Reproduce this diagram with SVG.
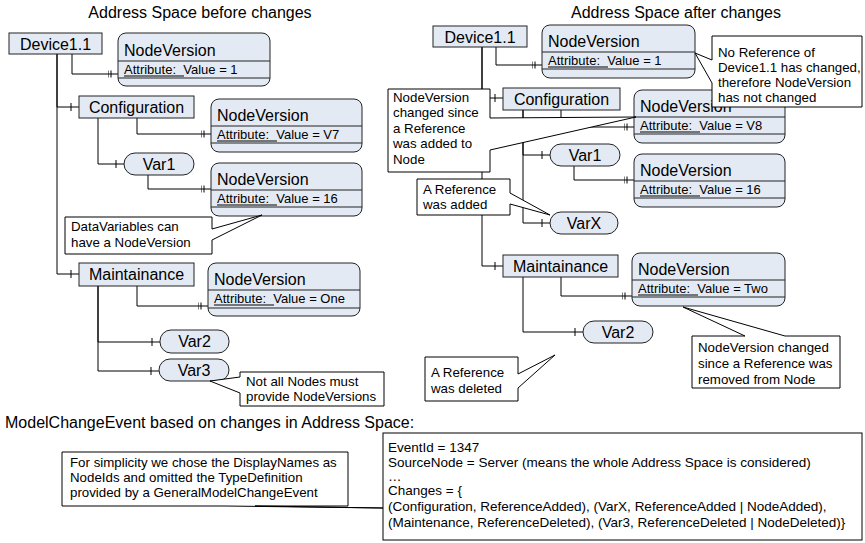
<svg xmlns="http://www.w3.org/2000/svg" width="865" height="543" viewBox="0 0 865 543">
<defs>
<marker id="one" markerWidth="20" markerHeight="20" refX="10" refY="5" orient="auto" markerUnits="userSpaceOnUse"><path d="M2 1V9" stroke="#000" stroke-width="1"/></marker>
<marker id="two" markerWidth="20" markerHeight="20" refX="10" refY="5" orient="auto" markerUnits="userSpaceOnUse"><path d="M0 1.5V8.5M3 1.5V8.5" stroke="#000" stroke-width="1"/></marker>
</defs>
<style>
text{font-family:"Liberation Sans",Arial,sans-serif;fill:#000}
.title{font-size:16px}
.nl{font-size:16px;text-anchor:middle}
.nv{font-size:16px}
.at{font-size:13px}
.co{font-size:13.3px}
.ev{font-size:13.5px}
.box{fill:#e4eaf4;stroke:#222;stroke-width:1}
.div{stroke:#222;stroke-width:1}
.ul{stroke:#000;stroke-width:1}
.call{fill:#fff;stroke:#000;stroke-width:1}
#connectors path{fill:none;stroke:#000;stroke-width:1}
.m1{marker-end:url(#one)}
.m2{marker-end:url(#two)}
</style>
<rect width="865" height="543" fill="#fff"/>
<text class="title" x="200" y="18" text-anchor="middle">Address Space before changes</text>
<text class="title" x="676" y="18" text-anchor="middle">Address Space after changes</text>
<text class="title" x="5" y="428">ModelChangeEvent based on changes in Address Space:</text>

<g id="connectors">
<path class="m1" d="M57 54V107H79"/>
<path class="m1" d="M57 54V274H79"/>
<path class="m2" d="M72 54V74H118"/>
<path class="m2" d="M137 118V134H211"/>
<path class="m1" d="M98 118V164H124"/>
<path class="m2" d="M148 175V189H211"/>
<path class="m2" d="M137 286V306H208"/>
<path class="m1" d="M98 286V342H160"/>
<path class="m1" d="M98 286V371H159"/>
<path class="m1" d="M482 47V98H503"/>
<path class="m1" d="M482 47V266H503"/>
<path class="m2" d="M496 47V65H542"/>
<path class="m2" d="M561 110V127H634"/>
<path class="m1" d="M523 110V155H550"/>
<path class="m1" d="M523 110V223H550"/>
<path class="m2" d="M574 166V180H634"/>
<path class="m2" d="M561 277V296H632"/>
<path class="m1" d="M523 277V332H583"/>
</g>

<g id="L-Device">
<rect class="box" x="9" y="33" width="93" height="21"/>
<text class="nl" x="55.5" y="49.5">Device1.1</text>
</g>
<g id="L-NV1">
<rect class="box" x="118" y="33" width="152" height="53" rx="8"/>
<line class="div" x1="118" y1="61" x2="270" y2="61"/><line class="div" x1="118" y1="78" x2="270" y2="78"/>
<text class="nv" x="124" y="56">NodeVersion</text>
<text class="at" x="124" y="74" xml:space="preserve">Attribute:  Value = 1</text>
<line class="ul" x1="124" y1="76" x2="184" y2="76"/>
</g>
<g id="L-Configuration">
<rect class="box" x="79" y="96" width="115" height="22"/>
<text class="nl" x="136.5" y="113">Configuration</text>
</g>
<g id="L-NV2">
<rect class="box" x="211" y="99" width="151" height="53" rx="8"/>
<line class="div" x1="211" y1="126" x2="362" y2="126"/><line class="div" x1="211" y1="143" x2="362" y2="143"/>
<text class="nv" x="217" y="121">NodeVersion</text>
<text class="at" x="217" y="139" xml:space="preserve">Attribute:  Value = V7</text>
<line class="ul" x1="217" y1="141" x2="277" y2="141"/>
</g>
<g id="L-Var1">
<rect class="box" x="124" y="153" width="70" height="22" rx="11"/>
<text class="nl" x="159" y="169.5">Var1</text>
</g>
<g id="L-NV3">
<rect class="box" x="211" y="163" width="151" height="53" rx="8"/>
<line class="div" x1="211" y1="190" x2="362" y2="190"/><line class="div" x1="211" y1="207" x2="362" y2="207"/>
<text class="nv" x="217" y="185">NodeVersion</text>
<text class="at" x="217" y="203" xml:space="preserve">Attribute:  Value = 16</text>
<line class="ul" x1="217" y1="205" x2="277" y2="205"/>
</g>
<g id="L-Maintainance">
<rect class="box" x="79" y="263" width="115" height="23"/>
<text class="nl" x="136.5" y="280">Maintainance</text>
</g>
<g id="L-NV4">
<rect class="box" x="208" y="263" width="152" height="53" rx="8"/>
<line class="div" x1="208" y1="290" x2="360" y2="290"/><line class="div" x1="208" y1="308" x2="360" y2="308"/>
<text class="nv" x="214" y="285">NodeVersion</text>
<text class="at" x="214" y="303" xml:space="preserve">Attribute:  Value = One</text>
<line class="ul" x1="214" y1="305" x2="274" y2="305"/>
</g>
<g id="L-Var2">
<rect class="box" x="160" y="330" width="69" height="23" rx="11"/>
<text class="nl" x="194.5" y="347">Var2</text>
</g>
<g id="L-Var3">
<rect class="box" x="159" y="359" width="70" height="22" rx="11"/>
<text class="nl" x="194" y="375.5">Var3</text>
</g>

<g id="R-Device">
<rect class="box" x="433" y="26" width="94" height="21"/>
<text class="nl" x="480" y="42.5">Device1.1</text>
</g>
<g id="R-NV1">
<rect class="box" x="542" y="25" width="153" height="53" rx="8"/>
<line class="div" x1="542" y1="52" x2="695" y2="52"/><line class="div" x1="542" y1="69" x2="695" y2="69"/>
<text class="nv" x="548" y="47">NodeVersion</text>
<text class="at" x="548" y="65" xml:space="preserve">Attribute:  Value = 1</text>
<line class="ul" x1="548" y1="67" x2="608" y2="67"/>
</g>
<g id="R-Configuration">
<rect class="box" x="503" y="88" width="117" height="22"/>
<text class="nl" x="561.5" y="104.5">Configuration</text>
</g>
<g id="R-NV2">
<rect class="box" x="634" y="90" width="151" height="53" rx="8"/>
<line class="div" x1="634" y1="117" x2="785" y2="117"/><line class="div" x1="634" y1="134" x2="785" y2="134"/>
<text class="nv" x="640" y="112">NodeVersion</text>
<text class="at" x="640" y="130" xml:space="preserve">Attribute:  Value = V8</text>
<line class="ul" x1="640" y1="132" x2="700" y2="132"/>
</g>
<g id="R-Var1">
<rect class="box" x="550" y="144" width="70" height="22" rx="11"/>
<text class="nl" x="585" y="160.5">Var1</text>
</g>
<g id="R-NV3">
<rect class="box" x="634" y="154" width="151" height="53" rx="8"/>
<line class="div" x1="634" y1="181" x2="785" y2="181"/><line class="div" x1="634" y1="198" x2="785" y2="198"/>
<text class="nv" x="640" y="176">NodeVersion</text>
<text class="at" x="640" y="194" xml:space="preserve">Attribute:  Value = 16</text>
<line class="ul" x1="640" y1="196" x2="700" y2="196"/>
</g>
<g id="R-VarX">
<rect class="box" x="550" y="212" width="68" height="22" rx="11"/>
<text class="nl" x="584" y="228.5">VarX</text>
</g>
<g id="R-Maintainance">
<rect class="box" x="503" y="255" width="115" height="22"/>
<text class="nl" x="560.5" y="271.5">Maintainance</text>
</g>
<g id="R-NV4">
<rect class="box" x="632" y="253" width="153" height="53" rx="8"/>
<line class="div" x1="632" y1="280" x2="785" y2="280"/><line class="div" x1="632" y1="297" x2="785" y2="297"/>
<text class="nv" x="638" y="275">NodeVersion</text>
<text class="at" x="638" y="293" xml:space="preserve">Attribute:  Value = Two</text>
<line class="ul" x1="638" y1="295" x2="698" y2="295"/>
</g>
<g id="R-Var2">
<rect class="box" x="583" y="321" width="70" height="22" rx="11"/>
<text class="nl" x="618" y="337.5">Var2</text>
</g>

<g id="callout-datavariables">
<path class="call" d="M65 217H212V229L262 215L212 240V254H65Z"/>
<text class="co" x="71" y="231">DataVariables can</text>
<text class="co" x="71" y="247">have a NodeVersion</text>
</g>
<g id="callout-notall">
<path class="call" d="M240 372H384V406H240V393L210 381L240 377Z"/>
<text class="co" x="246" y="386">Not all Nodes must</text>
<text class="co" x="246" y="401">provide NodeVersions</text>
</g>
<g id="callout-noref">
<path class="call" d="M712 36H862V107H712V83L695 53L712 60Z"/>
<text class="co" x="718" y="57">No Reference of</text>
<text class="co" x="718" y="72">Device1.1 has changed,</text>
<text class="co" x="718" y="87">therefore NodeVersion</text>
<text class="co" x="718" y="102">has not changed</text>
</g>
<g id="callout-nvchanged">
<path class="call" d="M388 89H490V118L636 117L490 150V172H388Z"/>
<text class="co" x="393" y="102">NodeVersion</text>
<text class="co" x="393" y="117">changed since</text>
<text class="co" x="393" y="133">a Reference</text>
<text class="co" x="393" y="148">was added to</text>
<text class="co" x="393" y="164">Node</text>
</g>
<g id="callout-added">
<path class="call" d="M417 179H510V193L550 215L510 204V215H417Z"/>
<text class="co" x="423" y="194">A Reference</text>
<text class="co" x="423" y="209">was added</text>
</g>
<g id="callout-deleted">
<path class="call" d="M425 357H518V374L555 355L518 388V401H425Z"/>
<text class="co" x="431" y="377">A Reference</text>
<text class="co" x="431" y="393">was deleted</text>
</g>
<g id="callout-removed">
<path class="call" d="M692 336H745L683 307L785 336H840V388H692Z"/>
<text class="co" x="698" y="352">NodeVersion changed</text>
<text class="co" x="698" y="368">since a Reference was</text>
<text class="co" x="698" y="384">removed from Node</text>
</g>

<g id="event">
<rect class="call" x="383" y="433" width="479" height="107"/>
<text class="ev" x="388" y="452">EventId = 1347</text>
<text class="ev" x="388" y="467">SourceNode = Server (means the whole Address Space is considered)</text>
<text class="ev" x="388" y="481">…</text>
<text class="ev" x="388" y="495">Changes = {</text>
<text class="ev" x="388" y="511">(Configuration, ReferenceAdded), (VarX, ReferenceAdded | NodeAdded),</text>
<text class="ev" x="388" y="527">(Maintenance, ReferenceDeleted), (Var3, ReferenceDeleted | NodeDeleted)}</text>
</g>
<g id="callout-simplicity">
<path class="call" d="M62 452H348V506H255L383 508L225 506H62Z"/>
<text class="co" x="70" y="467">For simplicity we chose the DisplayNames as</text>
<text class="co" x="70" y="482">NodeIds and omitted the TypeDefinition</text>
<text class="co" x="70" y="497">provided by a GeneralModelChangeEvent</text>
</g>
</svg>
